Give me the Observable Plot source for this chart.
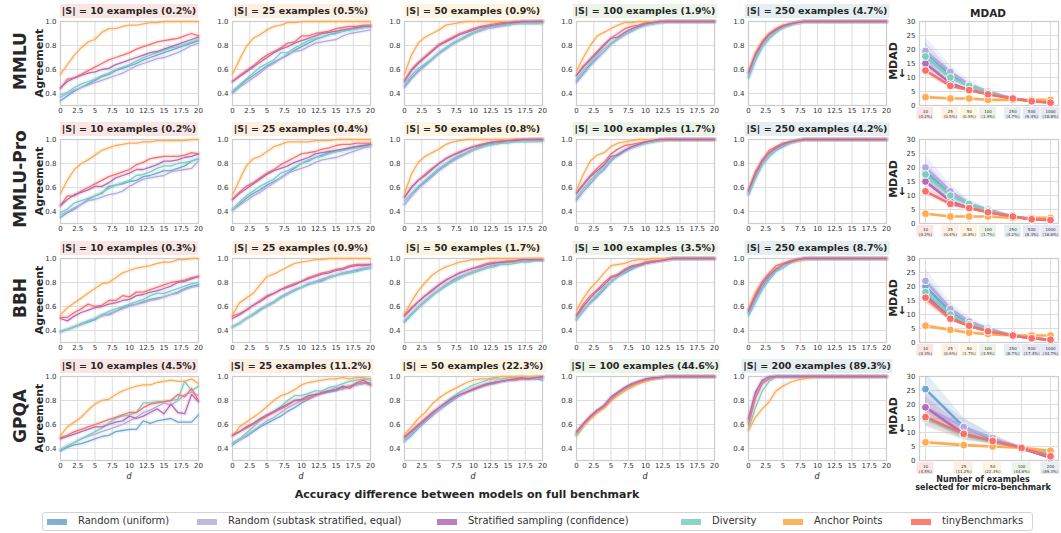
<!DOCTYPE html>
<html><head><meta charset="utf-8">
<script src="https://cdn.jsdelivr.net/npm/d3@7"></script>
<script src="https://cdn.jsdelivr.net/npm/@observablehq/plot@0.6"></script>
<style>
body{margin:0;background:#fff;font-family:"DejaVu Sans",sans-serif;}
#root{position:relative;width:1061px;height:533px;overflow:hidden;background:#fff;}
.t{position:absolute;white-space:nowrap;color:#262626;font-family:"DejaVu Sans",sans-serif;}
.title{font-weight:bold;font-size:9.5px;height:14px;line-height:14px;transform:translateX(-50%);padding:0 2px;}
.rot{transform:translate(-50%,-50%) rotate(-90deg);}
.ctr{transform:translate(-50%,-50%);}
#legend{position:absolute;left:42px;top:512px;width:991px;height:19px;border:1px solid #d4d4d4;border-radius:3px;box-sizing:border-box;}
.sw{position:absolute;top:6px;width:20px;height:6px;}
.lt{position:absolute;top:2px;font-size:10px;color:#333;white-space:nowrap;}
</style></head>
<body><div id="root"><div id="legend"></div></div>
<script>
// ---------------- data ----------------
const SERIES = ["Random (uniform)", "Random (subtask stratified, equal)", "Stratified sampling (confidence)", "Diversity", "Anchor Points", "tinyBenchmarks"];
const SWATCH_COLORS = ["#80b1d3", "#bebada", "#bc80bd", "#8dd3c7", "#fdb462", "#fb8072"];
const LINE_COLORS = ["#6fa7d2", "#b2acde", "#b36cb5", "#7dcdbf", "#fdac55", "#f8706a"];
const BENCHMARKS = ["MMLU", "MMLU-Pro", "BBH", "GPQA"];
const DIFFS = [0,1,2,3,4,5,6,7,8,9,10,11,12,13,14,15,16,17,18,19,20];
const X_TICKS = [0,2.5,5,7.5,10,12.5,15,17.5,20];
const Y_TICKS = [0.4,0.6,0.8,1.0];
const SIZES = [[10,25,50,100,250],[10,25,50,100,250],[10,25,50,100,250],[10,25,50,100,200]];
const PCTS = [["0.2%","0.5%","0.9%","1.9%","4.7%"],["0.2%","0.4%","0.8%","1.7%","4.2%"],["0.3%","0.9%","1.7%","3.5%","8.7%"],["4.5%","11.2%","22.3%","44.6%","89.3%"]];
const TITLE_BG = ["#fae5e5", "#fdefe2", "#fdf5e2", "#ecf4e9", "#e7eef2"];

// series order in each panel: [uniform, subtask, stratified, diversity, anchor, tiny]
const MMLU_10 = [
 [0.34,0.38,0.42,0.45,0.48,0.51,0.54,0.56,0.59,0.61,0.63,0.65,0.68,0.70,0.72,0.74,0.76,0.78,0.80,0.82,0.84],
 [0.37,0.40,0.43,0.45,0.47,0.49,0.51,0.53,0.55,0.57,0.60,0.63,0.65,0.67,0.69,0.70,0.72,0.74,0.77,0.80,0.82],
 [0.45,0.50,0.53,0.55,0.57,0.58,0.60,0.61,0.64,0.66,0.68,0.70,0.72,0.74,0.75,0.77,0.79,0.81,0.83,0.85,0.87],
 [0.39,0.41,0.45,0.48,0.50,0.52,0.55,0.57,0.60,0.62,0.64,0.67,0.70,0.72,0.74,0.76,0.78,0.79,0.81,0.83,0.85],
 [0.56,0.64,0.72,0.78,0.83,0.85,0.91,0.94,0.94,0.96,0.97,0.97,0.98,0.99,0.99,1,1,1,1,1,1],
 [0.44,0.52,0.53,0.56,0.59,0.62,0.65,0.68,0.70,0.72,0.74,0.77,0.79,0.81,0.83,0.84,0.85,0.86,0.88,0.90,0.88]];
const MMLU_25 = [
 [0.41,0.46,0.51,0.55,0.59,0.63,0.66,0.69,0.72,0.76,0.79,0.82,0.85,0.87,0.89,0.90,0.92,0.93,0.94,0.95,0.96],
 [0.40,0.45,0.49,0.53,0.57,0.62,0.65,0.69,0.73,0.75,0.76,0.79,0.82,0.83,0.84,0.85,0.88,0.90,0.91,0.92,0.93],
 [0.50,0.54,0.58,0.62,0.66,0.70,0.74,0.77,0.79,0.82,0.84,0.86,0.88,0.90,0.91,0.92,0.93,0.94,0.95,0.96,0.96],
 [0.42,0.47,0.52,0.57,0.62,0.65,0.68,0.74,0.74,0.78,0.81,0.84,0.86,0.87,0.89,0.91,0.92,0.93,0.94,0.95,0.96],
 [0.56,0.68,0.79,0.86,0.89,0.93,0.96,0.97,0.99,0.99,1,1,1,1,1,1,1,1,1,1,1],
 [0.50,0.55,0.59,0.63,0.68,0.72,0.75,0.78,0.82,0.83,0.88,0.88,0.90,0.91,0.92,0.94,0.95,0.96,0.96,0.97,0.97]];
const MMLU_50 = [
 [0.46,0.53,0.59,0.64,0.69,0.74,0.78,0.82,0.85,0.88,0.91,0.93,0.95,0.96,0.97,0.98,0.99,0.99,0.99,1,1],
 [0.45,0.52,0.58,0.63,0.68,0.73,0.77,0.81,0.84,0.87,0.90,0.92,0.94,0.95,0.96,0.97,0.98,0.99,0.99,0.99,1],
 [0.50,0.59,0.65,0.70,0.75,0.80,0.83,0.86,0.89,0.91,0.93,0.95,0.96,0.97,0.98,0.99,0.99,1,1,1,1],
 [0.48,0.55,0.61,0.65,0.69,0.74,0.78,0.82,0.85,0.88,0.91,0.93,0.95,0.96,0.97,0.97,0.98,0.98,0.98,0.98,0.98],
 [0.56,0.72,0.82,0.87,0.90,0.93,0.97,0.98,0.99,1,1,1,1,1,1,1,1,1,1,1,1],
 [0.51,0.60,0.66,0.71,0.76,0.81,0.84,0.87,0.90,0.92,0.94,0.96,0.97,0.98,0.99,0.99,1,1,1,1,1]];
const MMLU_100 = [
 [0.50,0.57,0.64,0.70,0.75,0.81,0.86,0.89,0.92,0.95,0.97,0.98,0.99,1,1,1,1,1,1,1,1],
 [0.49,0.56,0.63,0.69,0.75,0.81,0.85,0.89,0.92,0.95,0.97,0.98,0.99,1,1,1,1,1,1,1,1],
 [0.55,0.62,0.68,0.74,0.80,0.86,0.87,0.91,0.94,0.96,0.98,0.99,1,1,1,1,1,1,1,1,1],
 [0.52,0.59,0.66,0.72,0.77,0.82,0.86,0.90,0.93,0.95,0.97,0.98,0.99,1,1,1,1,1,1,1,1],
 [0.59,0.70,0.80,0.88,0.91,0.94,0.97,0.99,0.99,1,1,1,1,1,1,1,1,1,1,1,1],
 [0.55,0.63,0.69,0.75,0.81,0.86,0.90,0.94,0.96,0.97,0.99,0.99,1,1,1,1,1,1,1,1,1]];
const MMLU_250 = [
 [0.53,0.68,0.79,0.86,0.91,0.95,0.97,0.99,1,1,1,1,1,1,1,1,1,1,1,1,1],
 [0.54,0.69,0.80,0.87,0.92,0.95,0.97,0.99,1,1,1,1,1,1,1,1,1,1,1,1,1],
 [0.57,0.72,0.82,0.89,0.93,0.96,0.98,0.99,1,1,1,1,1,1,1,1,1,1,1,1,1],
 [0.54,0.68,0.79,0.86,0.91,0.95,0.97,0.99,1,1,1,1,1,1,1,1,1,1,1,1,1],
 [0.58,0.74,0.84,0.90,0.94,0.96,0.98,0.99,1,1,1,1,1,1,1,1,1,1,1,1,1],
 [0.58,0.73,0.83,0.90,0.94,0.97,0.98,0.99,1,1,1,1,1,1,1,1,1,1,1,1,1]];

const PRO_10 = [
 [0.35,0.39,0.42,0.46,0.50,0.53,0.55,0.61,0.62,0.63,0.65,0.66,0.69,0.70,0.72,0.74,0.74,0.76,0.78,0.82,0.84],
 [0.37,0.40,0.43,0.46,0.49,0.50,0.52,0.54,0.55,0.57,0.61,0.64,0.67,0.68,0.69,0.70,0.73,0.74,0.75,0.76,0.82],
 [0.45,0.50,0.54,0.56,0.58,0.61,0.61,0.64,0.68,0.70,0.72,0.75,0.75,0.77,0.79,0.82,0.82,0.83,0.85,0.86,0.88],
 [0.39,0.42,0.47,0.49,0.51,0.53,0.56,0.59,0.62,0.64,0.66,0.70,0.71,0.73,0.76,0.78,0.78,0.80,0.81,0.82,0.84],
 [0.55,0.66,0.75,0.80,0.83,0.87,0.91,0.93,0.95,0.96,0.97,0.97,0.98,0.98,0.99,0.99,0.99,0.99,0.99,1,1],
 [0.45,0.53,0.53,0.57,0.60,0.63,0.66,0.69,0.71,0.73,0.75,0.79,0.81,0.84,0.85,0.86,0.86,0.86,0.87,0.89,0.88]];
const PRO_25 = [
 [0.41,0.46,0.51,0.55,0.58,0.62,0.65,0.68,0.72,0.76,0.80,0.82,0.85,0.87,0.89,0.90,0.91,0.93,0.94,0.95,0.95],
 [0.41,0.45,0.49,0.53,0.56,0.60,0.64,0.68,0.72,0.74,0.76,0.78,0.81,0.83,0.84,0.85,0.87,0.89,0.91,0.93,0.94],
 [0.50,0.55,0.59,0.63,0.67,0.71,0.74,0.76,0.78,0.81,0.83,0.85,0.88,0.89,0.90,0.91,0.92,0.93,0.94,0.95,0.96],
 [0.42,0.48,0.53,0.57,0.61,0.64,0.67,0.72,0.74,0.77,0.80,0.83,0.85,0.86,0.88,0.90,0.91,0.92,0.93,0.94,0.95],
 [0.54,0.66,0.78,0.84,0.86,0.90,0.94,0.96,0.98,0.98,0.98,0.98,0.99,0.99,0.99,1,1,1,1,1,1],
 [0.50,0.56,0.61,0.64,0.68,0.72,0.75,0.79,0.82,0.85,0.88,0.89,0.90,0.92,0.93,0.95,0.96,0.96,0.97,0.97,0.97]];
const PRO_50 = [
 [0.46,0.53,0.60,0.65,0.70,0.75,0.79,0.83,0.86,0.89,0.92,0.94,0.96,0.97,0.98,0.99,0.99,0.99,1,1,1],
 [0.46,0.53,0.59,0.64,0.69,0.74,0.78,0.82,0.85,0.88,0.91,0.93,0.95,0.96,0.97,0.98,0.99,0.99,0.99,1,1],
 [0.52,0.60,0.66,0.70,0.75,0.80,0.84,0.87,0.89,0.92,0.94,0.95,0.97,0.98,0.98,0.99,0.99,1,1,1,1],
 [0.49,0.55,0.61,0.66,0.71,0.76,0.80,0.84,0.87,0.89,0.92,0.94,0.95,0.96,0.97,0.97,0.98,0.98,0.98,0.98,0.98],
 [0.55,0.71,0.81,0.86,0.89,0.92,0.96,0.98,0.99,1,1,1,1,1,1,1,1,1,1,1,1],
 [0.52,0.60,0.66,0.71,0.76,0.80,0.84,0.87,0.90,0.92,0.94,0.96,0.97,0.98,0.99,0.99,1,1,1,1,1]];
const PRO_100 = [
 [0.50,0.57,0.63,0.70,0.75,0.82,0.87,0.91,0.93,0.95,0.97,0.98,0.99,1,1,1,1,1,1,1,1],
 [0.49,0.57,0.64,0.70,0.76,0.83,0.87,0.90,0.93,0.95,0.97,0.98,0.99,1,1,1,1,1,1,1,1],
 [0.55,0.62,0.69,0.74,0.79,0.86,0.87,0.91,0.94,0.96,0.98,0.99,1,1,1,1,1,1,1,1,1],
 [0.52,0.59,0.66,0.72,0.78,0.84,0.88,0.91,0.94,0.96,0.97,0.98,0.99,1,1,1,1,1,1,1,1],
 [0.58,0.71,0.82,0.87,0.89,0.94,0.97,0.98,0.99,1,1,1,1,1,1,1,1,1,1,1,1],
 [0.56,0.63,0.70,0.76,0.81,0.88,0.92,0.95,0.96,0.97,0.98,0.99,1,1,1,1,1,1,1,1,1]];
const PRO_250 = [
 [0.54,0.68,0.79,0.86,0.91,0.94,0.97,0.99,1,1,1,1,1,1,1,1,1,1,1,1,1],
 [0.55,0.69,0.80,0.87,0.92,0.95,0.97,0.99,1,1,1,1,1,1,1,1,1,1,1,1,1],
 [0.57,0.71,0.82,0.89,0.93,0.96,0.98,0.99,1,1,1,1,1,1,1,1,1,1,1,1,1],
 [0.55,0.68,0.79,0.86,0.91,0.95,0.97,0.99,1,1,1,1,1,1,1,1,1,1,1,1,1],
 [0.58,0.72,0.83,0.89,0.93,0.96,0.98,0.99,1,1,1,1,1,1,1,1,1,1,1,1,1],
 [0.58,0.73,0.83,0.91,0.94,0.97,0.98,0.99,1,1,1,1,1,1,1,1,1,1,1,1,1]];

const BBH_10 = [
 [0.39,0.41,0.43,0.45,0.47,0.49,0.53,0.53,0.56,0.59,0.61,0.62,0.64,0.66,0.67,0.68,0.70,0.72,0.75,0.77,0.78],
 [0.39,0.41,0.43,0.45,0.48,0.50,0.52,0.54,0.56,0.58,0.60,0.62,0.63,0.65,0.66,0.68,0.70,0.71,0.74,0.76,0.77],
 [0.50,0.48,0.52,0.55,0.57,0.59,0.60,0.62,0.63,0.65,0.66,0.69,0.70,0.72,0.73,0.75,0.77,0.80,0.81,0.83,0.85],
 [0.39,0.41,0.43,0.46,0.48,0.50,0.53,0.56,0.58,0.60,0.62,0.64,0.66,0.69,0.71,0.71,0.73,0.75,0.77,0.79,0.80],
 [0.53,0.59,0.63,0.67,0.71,0.75,0.79,0.80,0.84,0.88,0.90,0.92,0.93,0.94,0.96,0.97,0.97,0.99,0.99,1,1],
 [0.51,0.51,0.55,0.58,0.62,0.60,0.61,0.65,0.65,0.69,0.68,0.72,0.72,0.74,0.76,0.78,0.80,0.81,0.82,0.84,0.85]];
const BBH_25 = [
 [0.43,0.46,0.50,0.53,0.57,0.61,0.64,0.68,0.71,0.74,0.76,0.79,0.80,0.82,0.84,0.86,0.88,0.89,0.90,0.91,0.92],
 [0.43,0.46,0.50,0.54,0.58,0.61,0.64,0.68,0.71,0.74,0.76,0.79,0.81,0.83,0.85,0.86,0.88,0.89,0.91,0.92,0.93],
 [0.50,0.53,0.57,0.61,0.64,0.68,0.71,0.74,0.76,0.78,0.81,0.83,0.85,0.87,0.88,0.90,0.91,0.93,0.94,0.94,0.95],
 [0.43,0.46,0.50,0.53,0.57,0.60,0.63,0.67,0.70,0.73,0.76,0.78,0.80,0.81,0.84,0.86,0.87,0.88,0.89,0.91,0.92],
 [0.53,0.63,0.67,0.71,0.78,0.85,0.87,0.90,0.93,0.96,0.97,0.98,0.99,0.99,1,1,1,1,1,1,1],
 [0.52,0.54,0.57,0.61,0.65,0.69,0.71,0.74,0.77,0.79,0.81,0.84,0.86,0.88,0.89,0.91,0.92,0.94,0.95,0.95,0.95]];
const BBH_50 = [
 [0.47,0.53,0.59,0.64,0.69,0.74,0.78,0.82,0.85,0.87,0.89,0.91,0.93,0.94,0.96,0.97,0.97,0.98,0.98,0.99,0.99],
 [0.48,0.54,0.60,0.65,0.70,0.74,0.78,0.81,0.84,0.87,0.89,0.91,0.93,0.95,0.96,0.97,0.97,0.98,0.99,0.99,0.99],
 [0.52,0.58,0.64,0.69,0.73,0.78,0.82,0.85,0.88,0.90,0.92,0.93,0.95,0.96,0.97,0.97,0.98,0.99,0.99,0.99,0.99],
 [0.48,0.54,0.59,0.64,0.69,0.73,0.77,0.80,0.83,0.86,0.88,0.90,0.92,0.93,0.95,0.95,0.96,0.97,0.97,0.98,0.98],
 [0.54,0.64,0.73,0.80,0.86,0.90,0.93,0.95,0.97,0.98,0.99,0.99,1,1,1,1,1,1,1,1,1],
 [0.53,0.59,0.64,0.69,0.74,0.78,0.82,0.85,0.88,0.90,0.92,0.94,0.96,0.97,0.97,0.98,0.98,0.99,0.99,0.99,0.99]];
const BBH_100 = [
 [0.49,0.57,0.63,0.68,0.74,0.81,0.85,0.88,0.91,0.94,0.96,0.97,0.98,0.99,1,1,1,1,1,1,1],
 [0.49,0.56,0.63,0.69,0.75,0.81,0.85,0.89,0.92,0.94,0.96,0.97,0.98,0.99,1,1,1,1,1,1,1],
 [0.52,0.60,0.67,0.73,0.78,0.84,0.86,0.90,0.93,0.94,0.96,0.97,0.98,0.99,1,1,1,1,1,1,1],
 [0.50,0.57,0.64,0.70,0.76,0.80,0.85,0.89,0.92,0.94,0.96,0.97,0.98,0.99,1,1,1,1,1,1,1],
 [0.57,0.67,0.75,0.81,0.88,0.94,0.95,0.96,0.98,0.99,0.99,1,1,1,1,1,1,1,1,1,1],
 [0.53,0.62,0.69,0.74,0.80,0.85,0.87,0.91,0.94,0.95,0.97,0.98,0.98,0.99,1,1,1,1,1,1,1]];
const BBH_250 = [
 [0.54,0.66,0.76,0.84,0.90,0.94,0.97,0.99,1,1,1,1,1,1,1,1,1,1,1,1,1],
 [0.55,0.67,0.78,0.85,0.91,0.94,0.97,0.99,1,1,1,1,1,1,1,1,1,1,1,1,1],
 [0.56,0.68,0.79,0.86,0.91,0.95,0.97,0.99,1,1,1,1,1,1,1,1,1,1,1,1,1],
 [0.52,0.63,0.74,0.82,0.89,0.92,0.96,0.98,0.99,1,1,1,1,1,1,1,1,1,1,1,1],
 [0.58,0.72,0.80,0.87,0.92,0.95,0.97,0.98,0.99,1,1,1,1,1,1,1,1,1,1,1,1],
 [0.57,0.70,0.81,0.88,0.94,0.96,0.98,0.99,1,1,1,1,1,1,1,1,1,1,1,1,1]];

const GPQA_10 = [
 [0.38,0.41,0.43,0.44,0.46,0.48,0.50,0.51,0.54,0.55,0.56,0.56,0.63,0.61,0.63,0.64,0.65,0.62,0.62,0.62,0.68],
 [0.39,0.42,0.45,0.48,0.50,0.52,0.54,0.56,0.58,0.60,0.63,0.66,0.70,0.72,0.75,0.78,0.76,0.80,0.85,0.87,0.84],
 [0.48,0.50,0.52,0.54,0.56,0.58,0.58,0.60,0.62,0.63,0.67,0.65,0.67,0.70,0.73,0.69,0.77,0.70,0.69,0.85,0.79],
 [0.39,0.42,0.45,0.48,0.51,0.54,0.57,0.61,0.65,0.67,0.68,0.70,0.78,0.78,0.79,0.79,0.80,0.81,0.96,0.88,0.92],
 [0.51,0.58,0.62,0.66,0.72,0.77,0.80,0.81,0.85,0.88,0.90,0.92,0.93,0.93,0.95,0.96,0.97,0.96,0.96,0.98,0.94],
 [0.49,0.51,0.54,0.56,0.58,0.60,0.62,0.64,0.66,0.68,0.70,0.70,0.74,0.77,0.78,0.79,0.80,0.85,0.83,0.90,0.80]];
const GPQA_25 = [
 [0.43,0.47,0.50,0.54,0.58,0.61,0.64,0.67,0.71,0.74,0.78,0.81,0.84,0.86,0.87,0.88,0.90,0.92,0.93,0.94,0.95],
 [0.44,0.47,0.51,0.55,0.59,0.63,0.66,0.70,0.74,0.77,0.80,0.83,0.84,0.87,0.88,0.91,0.89,0.92,0.93,0.95,0.93],
 [0.51,0.54,0.58,0.61,0.65,0.68,0.71,0.74,0.77,0.80,0.81,0.84,0.85,0.86,0.88,0.89,0.92,0.90,0.95,0.97,0.93],
 [0.45,0.48,0.53,0.58,0.63,0.67,0.71,0.75,0.80,0.84,0.84,0.86,0.88,0.88,0.91,0.92,0.94,0.96,0.97,0.98,0.97],
 [0.50,0.58,0.62,0.66,0.70,0.75,0.80,0.84,0.86,0.89,0.93,0.95,0.96,0.97,0.98,0.98,0.99,0.98,0.99,0.99,0.98],
 [0.51,0.54,0.57,0.60,0.64,0.67,0.70,0.73,0.76,0.80,0.80,0.82,0.84,0.87,0.88,0.89,0.91,0.92,0.94,0.95,0.93]];
const GPQA_50 = [
 [0.46,0.51,0.57,0.62,0.67,0.72,0.76,0.80,0.84,0.87,0.89,0.91,0.93,0.94,0.96,0.97,0.97,0.98,0.98,0.98,0.97],
 [0.47,0.52,0.58,0.63,0.68,0.72,0.77,0.81,0.84,0.87,0.90,0.92,0.94,0.95,0.96,0.97,0.98,0.98,0.99,0.98,0.99],
 [0.49,0.54,0.59,0.64,0.69,0.74,0.78,0.82,0.85,0.87,0.89,0.92,0.94,0.95,0.96,0.97,0.98,0.99,0.98,0.99,1],
 [0.46,0.52,0.58,0.64,0.70,0.74,0.79,0.83,0.87,0.90,0.93,0.95,0.97,0.98,0.98,0.99,0.99,1,0.99,1,1],
 [0.52,0.58,0.65,0.70,0.77,0.82,0.86,0.89,0.92,0.95,0.97,0.98,0.98,0.99,1,1,1,1,1,1,1],
 [0.50,0.55,0.60,0.65,0.70,0.74,0.78,0.82,0.85,0.87,0.90,0.92,0.93,0.95,0.96,0.97,0.97,0.98,0.98,0.99,0.99]];
const GPQA_100 = [
 [0.51,0.59,0.66,0.71,0.75,0.81,0.86,0.90,0.93,0.95,0.97,0.98,0.99,1,1,1,1,1,1,1,1],
 [0.52,0.60,0.66,0.71,0.75,0.82,0.86,0.90,0.93,0.96,0.97,0.98,0.99,1,1,1,1,1,1,1,1],
 [0.54,0.61,0.67,0.72,0.76,0.83,0.87,0.91,0.94,0.96,0.98,0.99,0.99,1,1,1,1,1,1,1,1],
 [0.51,0.59,0.65,0.70,0.74,0.80,0.85,0.89,0.92,0.95,0.97,0.98,0.99,1,1,1,1,1,1,1,1],
 [0.52,0.59,0.65,0.70,0.74,0.80,0.84,0.88,0.91,0.94,0.96,0.98,0.99,0.99,1,1,1,1,1,1,1],
 [0.53,0.60,0.66,0.71,0.75,0.81,0.86,0.90,0.93,0.95,0.97,0.98,0.99,1,1,1,1,1,1,1,1]];
const GPQA_200 = [
 [0.63,0.85,0.96,0.99,1,1,1,1,1,1,1,1,1,1,1,1,1,1,1,1,1],
 [0.62,0.84,0.95,0.99,1,1,1,1,1,1,1,1,1,1,1,1,1,1,1,1,1],
 [0.65,0.87,0.97,1,1,1,1,1,1,1,1,1,1,1,1,1,1,1,1,1,1],
 [0.56,0.74,0.88,0.96,1,1,1,1,1,1,1,1,1,1,1,1,1,1,1,1,1],
 [0.55,0.66,0.73,0.79,0.88,0.92,0.95,0.97,0.98,0.99,1,1,1,1,1,1,1,1,1,1,1],
 [0.60,0.82,0.94,0.98,1,1,1,1,1,1,1,1,1,1,1,1,1,1,1,1,1]];

// MDAD (right column)
const MDAD_SIZES = [[10,25,50,100,250,500,1000],[10,25,50,100,250,500,1000],[10,25,50,100,250,500,1000],[10,25,50,100,200]];
const MDAD_PCTS = [
 ["0.2%","0.5%","0.9%","1.9%","4.7%","9.4%","18.8%"],
 ["0.2%","0.4%","0.8%","1.7%","4.2%","8.3%","16.6%"],
 ["0.3%","0.9%","1.7%","3.5%","8.7%","17.4%","34.7%"],
 ["4.5%","11.2%","22.3%","44.6%","89.3%"]];
const MDAD_TICK_BG = ["#fae5e5", "#fdefe2", "#fdf5e2", "#ecf4e9", "#e7eef2", "#e6e8f5", "#e6e8f5"];
const MDAD_MMLU = [
 [19,11,7,4.5,2.5,1.5,1.2],[19.5,12,7.5,5,2.5,1.5,1.2],[15,8,5.5,4,2.5,1.5,1.2],
 [17.5,10,7,4.5,2.5,1.5,1.2],[3,2.5,2.5,2,2,2,2],[12.5,7,5.5,4,2.5,1.5,1]];
const MDAD_MMLU_ERR = [
 [3.5,1.8,1.1,0.7,0.4,0.3,0.2],[5,2.5,1.5,0.8,0.4,0.3,0.2],[2,1,0.7,0.4,0.3,0.2,0.2],
 [2.2,1.2,0.8,0.5,0.3,0.2,0.2],[0.5,0.4,0.3,0.3,0.3,0.3,0.3],[1.6,0.8,0.5,0.4,0.3,0.2,0.2]];
const MDAD_PRO = [
 [18.5,10.5,7,4.5,2.5,1.5,1.5],[20,11.5,7,5,2.5,1.5,1.5],[15,8,5.5,4,2.5,1.5,1.5],
 [17.5,10,7,4.5,2.5,1.5,1.5],[3.5,2.5,2.5,2.5,2,2,2],[11.5,7,5.5,4,2.5,1.5,1.2]];
const MDAD_PRO_ERR = [
 [3.5,1.8,1.1,0.7,0.4,0.3,0.2],[4.5,2.4,1.4,0.8,0.4,0.3,0.2],[2,1,0.7,0.4,0.3,0.2,0.2],
 [2.2,1.2,0.8,0.5,0.3,0.2,0.2],[0.5,0.4,0.3,0.3,0.3,0.3,0.3],[1.5,0.8,0.5,0.4,0.3,0.2,0.2]];
const MDAD_BBH = [
 [20,11,7,4.5,2.5,1.5,1],[22,12,7.5,5,2.5,1.5,1],[17,9,6,4,2.5,1.5,1],
 [18,10,6.5,4.5,2.5,1.5,1],[6,4.5,3.5,3,2.5,2.5,2.5],[16,8.5,6,4,2.5,1.5,1]];
const MDAD_BBH_ERR = [
 [4,2,1.2,0.7,0.4,0.3,0.2],[4.5,2.4,1.4,0.8,0.4,0.3,0.2],[2.5,1.2,0.8,0.5,0.3,0.2,0.2],
 [2.5,1.3,0.8,0.5,0.3,0.2,0.2],[0.8,0.6,0.4,0.3,0.3,0.3,0.3],[2,1,0.6,0.4,0.3,0.2,0.2]];
const MDAD_GPQA = [
 [25.5,12,7.5,4.5,1],[19,12,8,4,1.5],[19,9.5,7,4.5,1],[15,9,6.5,4.5,2.5],[6.5,5.5,5,4.5,3.5],[15.5,9.5,7,4.5,1.5]];
const MDAD_GPQA_ERR = [
 [6,3.2,1.5,0.6,0.3],[5.5,3,1.5,0.6,0.3],[4,2.2,1.2,0.6,0.3],[3,1.8,1,0.5,0.3],[0.8,0.6,0.5,0.4,0.4],[3,1.8,1,0.5,0.3]];

const AGREEMENT = [
 [MMLU_10, MMLU_25, MMLU_50, MMLU_100, MMLU_250],
 [PRO_10, PRO_25, PRO_50, PRO_100, PRO_250],
 [BBH_10, BBH_25, BBH_50, BBH_100, BBH_250],
 [GPQA_10, GPQA_25, GPQA_50, GPQA_100, GPQA_200]];
const MDAD = [MDAD_MMLU, MDAD_PRO, MDAD_BBH, MDAD_GPQA];
const MDAD_ERR = [MDAD_MMLU_ERR, MDAD_PRO_ERR, MDAD_BBH_ERR, MDAD_GPQA_ERR];

// ---------------- layout ----------------
const COL_X = [60, 232, 404, 576, 748];
const ROW_Y = [21, 139, 258, 376];
const PW = 138, PH = 84;
const MD_X = 919, MD_W = 139;
const LINE_ORDER = [0, 1, 3, 4, 5, 2];
const MD_ORDER = [0, 1, 2, 3, 4, 5];
const FONT = "DejaVu Sans";
const root = document.getElementById("root");

function place(node, left, top) {
  node.style.position = "absolute";
  node.style.left = left + "px";
  node.style.top = top + "px";
  root.appendChild(node);
}
function label(text, cls, left, top, css = "") {
  const el = document.createElement("div");
  el.className = "t " + cls;
  el.textContent = text;
  el.style.cssText += `left:${left}px;top:${top}px;` + css;
  root.appendChild(el);
  return el;
}

const ML = 26, MR = 6, MT = 4, MB = 16;
function agreementPanel(series, row, col) {
  const rows = [];
  LINE_ORDER.forEach(i => series[i].forEach((v, j) => rows.push({d: DIFFS[j], agree: v, method: SERIES[i]})));
  const p = Plot.plot({
    width: PW + ML + MR, height: PH + MT + MB,
    marginLeft: ML, marginRight: MR, marginTop: MT, marginBottom: MB,
    x: {domain: [0, 20], label: null},
    y: {domain: [0.3, 1.0], label: null},
    color: {domain: SERIES, range: LINE_COLORS},
    style: {fontFamily: FONT, fontSize: "7px", color: "#333", background: "transparent", overflow: "visible"},
    marks: [
      Plot.gridX(X_TICKS, {stroke: "#dddddd", strokeOpacity: 1, strokeWidth: 1}),
      Plot.gridY(Y_TICKS, {stroke: "#dddddd", strokeOpacity: 1, strokeWidth: 1}),
      Plot.frame({stroke: "#cccccc", strokeWidth: 1.2}),
      Plot.line(rows, {x: "d", y: "agree", z: "method", stroke: "method", strokeWidth: 4.5, strokeOpacity: 0.14}),
      Plot.line(rows, {x: "d", y: "agree", z: "method", stroke: "method", strokeWidth: 1.3}),
      Plot.axisX(X_TICKS, {tickSize: 0, tickPadding: 3, tickFormat: d => String(d), label: null, fontSize: 7}),
      Plot.axisY(Y_TICKS, {tickSize: 0, tickPadding: 4, tickFormat: d3.format(".1f"), label: null, fontSize: 7})
    ]
  });
  place(p, COL_X[col] - ML, ROW_Y[row] - MT);
}

const MML = 22, MMR = 3, MMT = 4, MMB = 18;
function mdadPanel(row) {
  const sizes = MDAD_SIZES[row], pcts = MDAD_PCTS[row], vals = MDAD[row], errs = MDAD_ERR[row];
  const tickText = new Map(sizes.map((s, i) => [s, `${s}\n(${pcts[i]})`]));
  const perSeries = MD_ORDER.map(i => sizes.map((s, j) => ({n: s, mdad: vals[i][j], lo: vals[i][j] - errs[i][j], hi: vals[i][j] + errs[i][j], method: SERIES[i]})));
  const marks = [
    Plot.gridX(sizes, {stroke: "#dddddd", strokeOpacity: 1, strokeWidth: 1}),
    Plot.gridY([0,5,10,15,20,25,30], {stroke: "#dddddd", strokeOpacity: 1, strokeWidth: 1}),
    Plot.frame({stroke: "#cccccc", strokeWidth: 1.2})
  ];
  perSeries.forEach(d => marks.push(Plot.areaY(d, {x: "n", y1: "lo", y2: "hi", fill: "method", fillOpacity: 0.2, clip: true})));
  perSeries.forEach(d => {
    marks.push(Plot.line(d, {x: "n", y: "mdad", stroke: "method", strokeWidth: 2.6}));
    marks.push(Plot.dot(d, {x: "n", y: "mdad", fill: "method", stroke: "white", strokeWidth: 0.9, r: 3.9}));
  });
  marks.push(Plot.axisY([0,5,10,15,20,25,30], {tickSize: 0, tickPadding: 4, label: null, fontSize: 7}));
  marks.push(Plot.text(sizes, {x: d => d, text: d => tickText.get(d), frameAnchor: "bottom", lineAnchor: "top", dy: 4, fontSize: 4, lineHeight: 1.3, fill: "#333"}));
  const p = Plot.plot({
    width: MD_W + MML + MMR, height: PH + MMT + MMB,
    marginLeft: MML, marginRight: MMR, marginTop: MMT, marginBottom: MMB,
    x: {type: "log", domain: [10, sizes[sizes.length - 1]], insetLeft: 6, insetRight: 8, label: null, axis: null},
    y: {domain: [0, 30], label: null},
    color: {domain: SERIES, range: LINE_COLORS},
    style: {fontFamily: FONT, fontSize: "7px", color: "#333", background: "transparent", overflow: "visible"},
    marks
  });
  // coloured backgrounds behind the size tick labels, positioned with the plot's x scale
  const sx = p.scale("x");
  const g = d3.select(p).insert("g", "g");
  sizes.forEach((s, i) => {
    const w = Math.max(String(s).length, pcts[i].length + 2) * 2.3 + 3;
    g.append("rect").attr("x", sx.apply(s) - w / 2).attr("y", MMT + PH + 2).attr("width", w).attr("height", 12)
      .attr("fill", row === 3 && i === 4 ? MDAD_TICK_BG[4] : MDAD_TICK_BG[i]);
  });
  place(p, MD_X - MML, ROW_Y[row] - MMT);
}

// ---------------- draw ----------------
BENCHMARKS.forEach((b, r) => {
  AGREEMENT[r].forEach((panel, c) => {
    agreementPanel(panel, r, c);
    const cx = COL_X[c] + PW / 2;
    label(`|S| = ${SIZES[r][c]} examples (${PCTS[r][c]})`, "title", cx, ROW_Y[r] - 17, `background:${TITLE_BG[c]};`);
  });
  mdadPanel(r);
  label(b, "rot", 20, ROW_Y[r] + 40, "font-weight:bold;font-size:17px;");
  label("Agreement", "rot", 39, ROW_Y[r] + 42, "font-weight:bold;font-size:11px;");
  label("MDAD", "rot", 893, ROW_Y[r] + 40, "font-weight:bold;font-size:11px;");
  label("↓", "ctr", 902, ROW_Y[r] + 52, "font-weight:bold;font-size:11px;");
});
label("MDAD", "ctr", 988, 13, "font-weight:bold;font-size:10.5px;");
COL_X.forEach(x => label("d", "ctr", x + PW / 2, 476, "font-style:italic;font-size:8px;"));
label("Accuracy difference between models on full benchmark", "ctr", 467, 494, "font-weight:bold;font-size:11px;");
label("Number of examples", "ctr", 983, 479, "font-weight:bold;font-size:8px;");
label("selected for micro-benchmark", "ctr", 983, 487, "font-weight:bold;font-size:8px;");

// legend
const legend = document.getElementById("legend");
const SW_X = [4, 154, 394, 638, 740, 868];
SERIES.forEach((s, i) => {
  const sw = document.createElement("div");
  sw.className = "sw"; sw.style.left = SW_X[i] + "px"; sw.style.background = SWATCH_COLORS[i];
  legend.appendChild(sw);
  const lt = document.createElement("div");
  lt.className = "lt"; lt.style.left = (SW_X[i] + 31) + "px"; lt.textContent = s;
  legend.appendChild(lt);
});
</script></body></html>
